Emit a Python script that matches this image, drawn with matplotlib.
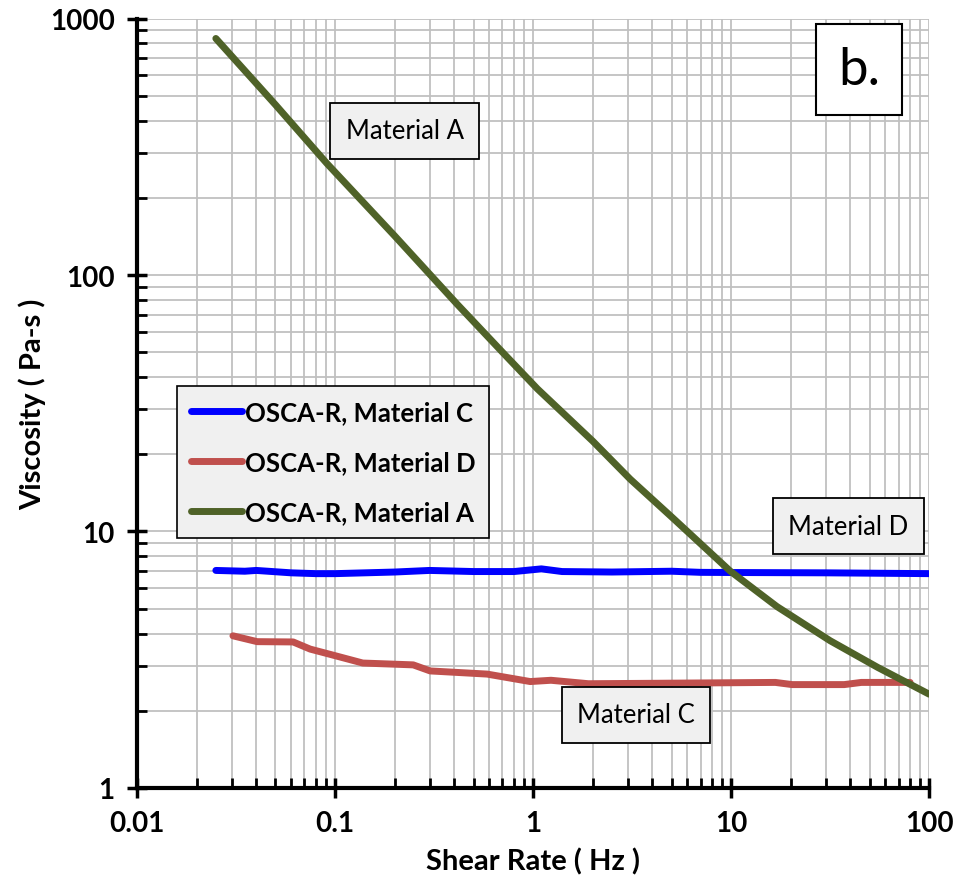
import numpy as np
import matplotlib
matplotlib.use("Agg")
import matplotlib.pyplot as plt
from matplotlib.ticker import LogLocator, FixedLocator, NullFormatter

# shear rate (Hz) / viscosity (Pa-s)
rate_c = [0.025, 0.035, 0.04, 0.06, 0.08, 0.1, 0.2, 0.3, 0.5, 0.8, 1.1, 1.4, 2.5, 5, 7, 10, 30, 100]
visc_c = [7.05, 7.0, 7.05, 6.9, 6.85, 6.85, 6.95, 7.05, 6.98, 6.98, 7.15, 6.98, 6.95, 7.0, 6.93, 6.92, 6.9, 6.85]

rate_d = [0.0305, 0.0404, 0.0614, 0.0748, 0.1, 0.138, 0.248, 0.302, 0.586, 0.966, 1.23, 1.9, 4.18, 16.7, 20.3, 37.2, 45.4, 80]
visc_d = [3.92, 3.72, 3.71, 3.48, 3.28, 3.07, 3.02, 2.86, 2.78, 2.6, 2.63, 2.55, 2.56, 2.58, 2.53, 2.53, 2.58, 2.58]

rate_a = [0.025, 0.05, 0.091, 0.2, 0.413, 0.7, 1.05, 2, 3.09, 5, 9.9, 17, 31.6, 55, 100]
visc_a = [836, 461, 272, 142, 77, 50, 36, 22.5, 16, 11.4, 7.0, 5.1, 3.75, 2.95, 2.32]

series_labels = ["OSCA-R, Material C", "OSCA-R, Material D", "OSCA-R, Material A"]
series_colors = ["#0000ff", "#c0504d", "#4f6228"]

fam = ["Lato", "DejaVu Sans"]

fig = plt.figure(figsize=(9.65, 8.79), dpi=100)
ax = fig.add_axes([0.142, 0.1024, 0.821, 0.8754])

for (x, y), lab, col in zip([(rate_c, visc_c), (rate_d, visc_d), (rate_a, visc_a)],
                            series_labels, series_colors):
    ax.plot(x, y, color=col, lw=5, label=lab, solid_capstyle="round",
            solid_joinstyle="round", zorder=3)

ax.set_xscale("log")
ax.set_yscale("log")
ax.set_xlim(0.01, 100)
ax.set_ylim(1, 1000)

ax.xaxis.set_major_locator(FixedLocator([0.01, 0.1, 1, 10, 100]))
ax.yaxis.set_major_locator(FixedLocator([1, 10, 100, 1000]))
ax.xaxis.set_minor_locator(LogLocator(base=10, subs=np.arange(2, 10), numticks=20))
ax.yaxis.set_minor_locator(LogLocator(base=10, subs=np.arange(2, 10), numticks=20))
ax.xaxis.set_minor_formatter(NullFormatter())
ax.yaxis.set_minor_formatter(NullFormatter())
ax.set_xticklabels(["0.01", "0.1", "1", "10", "100"])
ax.set_yticklabels(["1", "10", "100", "1000"])

ax.grid(True, which="both", color="#c0c0c0", lw=1.3, zorder=0)
ax.set_axisbelow(True)

for s in ["top", "right"]:
    ax.spines[s].set_visible(False)
for s in ["left", "bottom"]:
    ax.spines[s].set_linewidth(3)

ax.tick_params(which="major", direction="inout", length=14, width=2.5, pad=9)
ax.tick_params(which="minor", direction="in", length=7, width=2)
for lbl in ax.get_xticklabels() + ax.get_yticklabels():
    lbl.set_family(fam)
    lbl.set_fontweight("bold")
    lbl.set_fontsize(20)

ax.set_xlabel("Shear Rate ( Hz )", family=fam, fontweight="bold", fontsize=21, labelpad=8)
ax.set_ylabel("Viscosity ( Pa-s )", family=fam, fontweight="bold", fontsize=21, labelpad=3)

leg = ax.legend(loc="upper left", bbox_to_anchor=(0.05, 0.522), frameon=True,
                fancybox=False, handlelength=2.0, handletextpad=0.1,
                borderpad=0.55, labelspacing=1.0, borderaxespad=0,
                prop={"family": fam, "weight": "bold", "size": 18.5})
leg.get_frame().set_facecolor("#f0f0f0")
leg.get_frame().set_edgecolor("black")
leg.get_frame().set_linewidth(1.2)
leg.get_frame().set_alpha(1)

box = dict(boxstyle="square,pad=0.6", facecolor="#f0f0f0", edgecolor="black", lw=1.3)
ax.text(0.338, 0.854, "Material A", transform=ax.transAxes, ha="center", va="center",
        family=fam, fontsize=18.5, bbox=box, zorder=5)
ax.text(0.898, 0.340, "Material D", transform=ax.transAxes, ha="center", va="center",
        family=fam, fontsize=18.5, bbox=box, zorder=5)
ax.text(0.630, 0.095, "Material C", transform=ax.transAxes, ha="center", va="center",
        family=fam, fontsize=18.5, bbox=box, zorder=5)
ax.text(0.911, 0.934, "b.", transform=ax.transAxes, ha="center", va="center",
        family=fam, fontsize=38,
        bbox=dict(boxstyle="square,pad=0.42", facecolor="white", edgecolor="black", lw=1.5),
        zorder=5)

fig.savefig("out.png", dpi=100)
